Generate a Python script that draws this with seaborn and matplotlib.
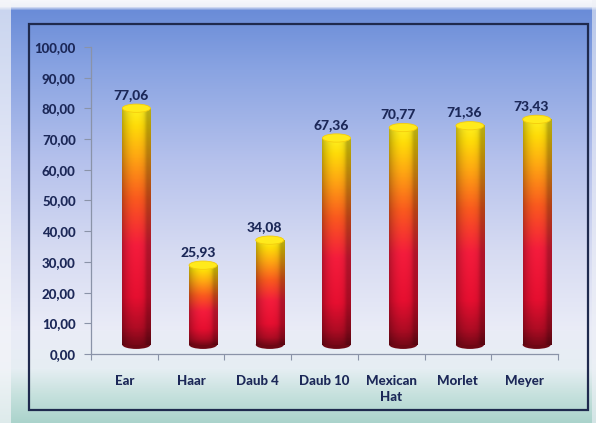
import numpy as np
import pandas as pd
import seaborn as sns
import matplotlib.pyplot as plt
from matplotlib.colors import LinearSegmentedColormap, to_rgb
from matplotlib.patches import Ellipse, Rectangle
from matplotlib.ticker import FixedLocator

# data
methods = ["Ear", "Haar", "Daub 4", "Daub 10", "Mexican\nHat", "Morlet", "Meyer"]
scores = [77.06, 25.93, 34.08, 67.36, 70.77, 71.36, 73.43]
y_ticks = [0, 10, 20, 30, 40, 50, 60, 70, 80, 90, 100]

df = pd.DataFrame({"method": methods, "score": scores})

sns.set_theme(style="white")
plt.rcParams["font.family"] = ["Lato", "DejaVu Sans"]

W, H = 596, 423
fig = plt.figure(figsize=(W / 100, H / 100), dpi=100)

# figure background: vertical blue -> lavender -> teal wash
bg = fig.add_axes([0, 0, 1, 1], zorder=0)
stops = [(0, "#f6f7fb"), (6, "#eef1f8"), (10, "#6a8cd8"), (70, "#8aa4e2"),
         (160, "#b5c1ec"), (250, "#d6dbf2"), (330, "#eaecf7"), (368, "#e6eef3"),
         (392, "#c9e2df"), (423, "#a9d3cb")]
ys = np.arange(H)
rows = np.zeros((H, 3))
sp = np.array([s[0] for s in stops])
for c in range(3):
    vals = np.array([to_rgb(s[1])[c] for s in stops])
    rows[:, c] = np.interp(ys, sp, vals)
img = np.repeat(rows[:, None, :], W, axis=1)
img[:, :11, :] = img[:, :11, :] * 0.3 + 0.7 * np.array(to_rgb("#f4f5f9"))
img[:, 592:, :] = img[:, 592:, :] * 0.4 + 0.6 * np.array(to_rgb("#eef0f6"))
bg.imshow(img, extent=[0, W, H, 0], aspect="auto", interpolation="bilinear")
bg.set_xlim(0, W)
bg.set_ylim(H, 0)
bg.axis("off")
bg.add_patch(Rectangle((29, 24), 559, 386, fill=False, ec="#1f2a4e", lw=1.6))

# plot area
ax = fig.add_axes([91 / W, (H - 354) / H, (558 - 91) / W, (354 - 47) / H], zorder=1)
ax.patch.set_alpha(0)
sns.barplot(data=df, x="method", y="score", ax=ax, color="#f03030", width=0.42,
            saturation=1)

navy = "#1c2858"
shift_x, depth = 0.18, 3.0
cmap = LinearSegmentedColormap.from_list(
    "cyl", [(0.0, "#7a0818"), (0.07, "#b00c24"), (0.2, "#e60f30"), (0.42, "#f41c3c"),
            (0.62, "#fa5a1e"), (0.8, "#ffa812"), (0.93, "#ffdc08"), (1.0, "#fff020")])

nx = 60
u = np.linspace(0, 1, nx)
shade = 0.62 + 0.38 * np.clip(np.sin(np.pi * (u * 0.92 + 0.04)) ** 0.6, 0, 1)
shade = shade - 0.12 * np.exp(-((u - 0.88) / 0.09) ** 2)

for p, val in zip(ax.patches, scores):
    x0, w, h = p.get_x() + shift_x, p.get_width(), p.get_height()
    p.set_x(x0)
    p.set_y(depth)
    p.set_visible(False)
    ny = 200
    v = np.linspace(1, 0, ny)[:, None]
    col = cmap(v * np.ones((1, nx)))[..., :3] * shade[None, :, None]
    eh = 2.7
    ax.add_patch(Ellipse((x0 + w / 2, depth), w, eh, fc="#6e0714", ec="none", zorder=2))
    ax.imshow(np.clip(col, 0, 1), extent=[x0, x0 + w, depth, depth + h],
              aspect="auto", origin="upper", zorder=3, interpolation="bilinear")
    ax.add_patch(Ellipse((x0 + w / 2, depth + h), w, eh, fc="#ffea1c",
                         ec="#f4cc0c", lw=0.6, zorder=4))
    ax.text(x0 + w / 2 - 0.08, depth + h + 2.4, f"{val:.2f}".replace(".", ","),
            ha="center", va="bottom", fontsize=10, fontweight="black", color=navy)

ax.set_xlim(-0.5, 6.5)
ax.set_ylim(0, 100)
ax.set_yticks(y_ticks)
ax.set_yticklabels([f"{t:.2f}".replace(".", ",") for t in y_ticks])
ax.set_xlabel("")
ax.set_ylabel("")
ax.xaxis.set_minor_locator(FixedLocator(np.arange(-0.5, 7, 1)))
ax.tick_params(axis="x", which="major", length=0, pad=15, labelsize=9.5, labelcolor=navy)
ax.tick_params(axis="x", which="minor", bottom=True, length=4, width=0.8, color="#8a93a8", direction="out")
ax.tick_params(axis="y", left=True, length=5, width=0.8, color="#8a93a8", direction="out",
               labelsize=9.5, labelcolor=navy, pad=6)
for lab in ax.get_xticklabels() + ax.get_yticklabels():
    lab.set_fontweight("black")
    lab.set_linespacing(1.45)
for s in ["top", "right"]:
    ax.spines[s].set_visible(False)
for s in ["left", "bottom"]:
    ax.spines[s].set_color("#8a93a8")
    ax.spines[s].set_linewidth(0.9)

fig.savefig("out.png", dpi=100)
